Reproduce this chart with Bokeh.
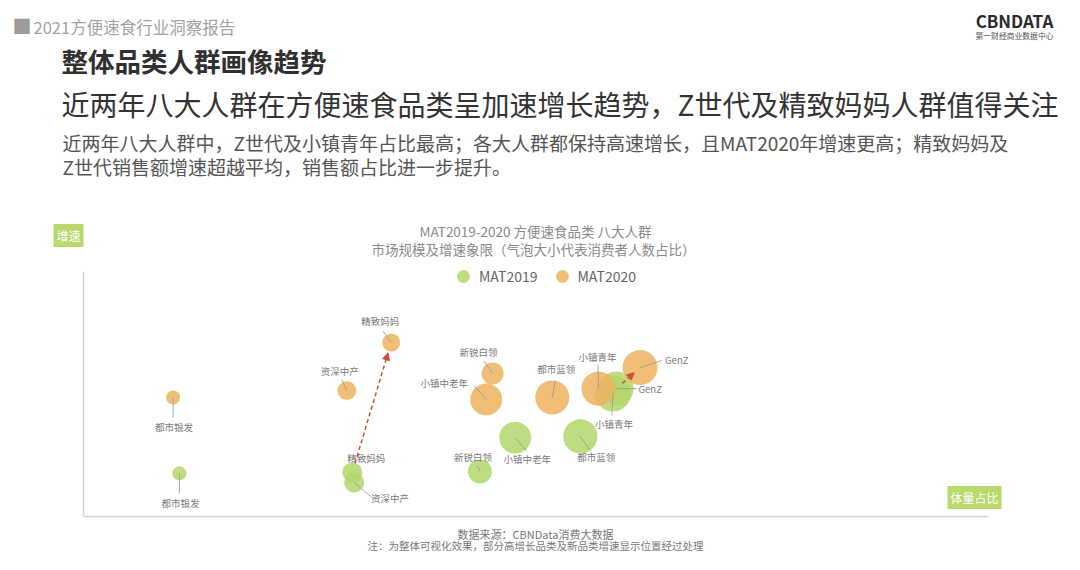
from bokeh.plotting import figure
from bokeh.models import (Label, Arrow, NormalHead, Legend, LegendItem,
                          ColumnDataSource, Range1d)
from bokeh.embed import file_html
from bokeh.resources import INLINE
from bokeh.core.properties import value

# ---------------- data ----------------
groups = ["都市银发", "精致妈妈", "资深中产", "新锐白领", "小镇中老年", "都市蓝领", "小镇青年", "GenZ"]

# x: 体量占比 (index), y: 增速 (index), people: 消费者人数占比 (bubble size)
share_2019 = [10.6, 29.7, 29.9, 43.8, 47.7, 54.9, 58.5, 58.9]
growth_2019 = [17.6, 18.0, 13.9, 18.4, 32.2, 32.7, 50.2, 52.2]
people_2019 = [6.4, 9.1, 9.1, 10.9, 14.5, 15.5, 16.4, 15.5]

share_2020 = [9.9, 34.0, 29.1, 45.2, 44.5, 51.8, 56.9, 61.5]
growth_2020 = [48.6, 71.0, 51.4, 58.4, 47.8, 48.6, 52.2, 60.8]
people_2020 = [6.4, 8.2, 8.6, 10.0, 14.5, 15.5, 15.5, 15.9]

# axis extent (data units)
X_MAX, Y_MAX = 100, 100

# label placement (screen px offsets) and leader lines (deg, px)
lab19_dx = [1, 14, 36, -7, 12, 16, 1, 22]
lab19_dy = [30, -14, 16, -14, 21, 21, 30, 0]
lab19_align = ["center", "center", "center", "center", "center", "center", "center", "left"]
lead19_ang = [-90, 90, -40, 115, -50, -55, -93, 0]
lead19_len = [20, 0, 22, 7, 18, 17, 22, 20]

lab20_dx = [1, -11, -7, -14, -42, 4, -1, 25]
lab20_dy = [30, -22, -20, -21, -16, -28, -32, -8]
lab20_align = ["center", "center", "center", "center", "center", "center", "center", "left"]
lead20_ang = [-90, 125, 115, 125, 131, 80, 91, 18]
lead20_len = [20, 14, 12, 15, 18, 17, 24, 23]

GREEN = "#b3d76a"
ORANGE = "#efb35f"
RED = "#c8503a"
FONT = "Noto Sans CJK SC"
SIZE_SCALE = 2.2

# canvas and where the plotting quadrant sits on it (px)
W, H = 1064, 554
AX_LEFT, AX_RIGHT, AX_TOP, AX_BOTTOM = 83, 988, 271, 516
ux = (AX_RIGHT - AX_LEFT) / X_MAX
uy = (AX_BOTTOM - AX_TOP) / Y_MAX
x_range = Range1d(-AX_LEFT / ux, (W - AX_LEFT) / ux)
y_range = Range1d(-(H - AX_BOTTOM) / uy, AX_BOTTOM / uy)

p = figure(width=W, height=H, x_range=x_range, y_range=y_range,
           toolbar_location=None, output_backend="svg",
           x_axis_location=None, y_axis_location=None,
           min_border=0, min_border_left=0, min_border_right=0,
           min_border_top=0, min_border_bottom=0)
p.outline_line_color = None
p.grid.visible = False
p.background_fill_color = "white"
p.border_fill_color = "white"

# quadrant axes lines
p.segment(x0=[0, 0], y0=[0, 0], x1=[0, X_MAX], y1=[Y_MAX, 0],
          line_color="#d4d4d4", line_width=1.5)

src19 = ColumnDataSource(dict(x=share_2019, y=growth_2019, d=[v * SIZE_SCALE for v in people_2019]))
src20 = ColumnDataSource(dict(x=share_2020, y=growth_2020, d=[v * SIZE_SCALE for v in people_2020]))

r19 = p.scatter("x", "y", size="d", source=src19, fill_color=GREEN, fill_alpha=0.85, line_color=None)
r20 = p.scatter("x", "y", size="d", source=src20, fill_color=ORANGE, fill_alpha=0.85, line_color=None)

# leader lines
def leaders(xs, ys, angs, lens):
    keep = [i for i in range(len(xs)) if lens[i] > 0]
    p.ray(x=[xs[i] for i in keep], y=[ys[i] for i in keep],
          angle=[angs[i] for i in keep], angle_units="deg",
          length=[lens[i] for i in keep], length_units="screen",
          line_color="#9a9a9a", line_alpha=0.85, line_width=1)

leaders(share_2019, growth_2019, lead19_ang, lead19_len)
leaders(share_2020, growth_2020, lead20_ang, lead20_len)

def point_labels(xs, ys, dxs, dys, aligns):
    for al in ("center", "left"):
        idx = [i for i in range(len(xs)) if aligns[i] == al]
        p.text(x=[xs[i] for i in idx], y=[ys[i] for i in idx], text=[groups[i] for i in idx],
               x_offset=[dxs[i] for i in idx], y_offset=[dys[i] for i in idx],
               text_align=al, text_baseline="middle", text_font=value(FONT),
               text_font_size="9.5px", text_color="#7a7a7a")

point_labels(share_2019, growth_2019, lab19_dx, lab19_dy, lab19_align)
point_labels(share_2020, growth_2020, lab20_dx, lab20_dy, lab20_align)

# arrows from 2019 to 2020
def move_arrow(i, t0, t1):
    x0, y0 = share_2019[i], growth_2019[i]
    x1, y1 = share_2020[i], growth_2020[i]
    p.add_layout(Arrow(x_start=x0 + t0 * (x1 - x0), y_start=y0 + t0 * (y1 - y0),
                       x_end=x0 + t1 * (x1 - x0), y_end=y0 + t1 * (y1 - y0),
                       end=NormalHead(size=7, fill_color=RED, line_color=RED),
                       line_color=RED, line_width=1.5, line_dash="4 3"))

move_arrow(groups.index("精致妈妈"), 0.07, 0.92)
move_arrow(groups.index("GenZ"), 0.25, 0.75)

legend = Legend(items=[LegendItem(label="MAT2019", renderers=[r19]),
                       LegendItem(label="MAT2020", renderers=[r20])],
                location=(447, H - 292), orientation="horizontal",
                glyph_width=32, glyph_height=32, label_standoff=-4, spacing=8,
                padding=0, margin=0, border_line_color=None, background_fill_alpha=0,
                label_text_font=FONT, label_text_font_size="14px", label_text_color="#666666")
p.add_layout(legend)

# ---------------- texts ----------------
def lab(px, py, text, size, color, align="left", bold=False, bg=None, pad=0):
    kw = {}
    if bg is not None:
        kw = dict(background_fill_color=bg, padding=pad)
    p.add_layout(Label(x=px, y=H - py, x_units="screen", y_units="screen", text=text,
                       text_font=FONT, text_font_size=size, text_color=color,
                       text_align=align, text_baseline="middle",
                       text_font_style="bold" if bold else "normal", **kw))

lab(12, 25, "■", "19px", "#9b9b9b")
lab(33, 26, "2021方便速食行业洞察报告", "16.5px", "#a3a3a3")
lab(1014, 20, "CBNDATA", "17px", "#2b2b2b", align="center", bold=True)
lab(1014, 35, "第一财经商业数据中心", "7.8px", "#555555", align="center")
lab(61, 60, "整体品类人群画像趋势", "26.5px", "#303030", bold=True)
lab(61, 103, "近两年八大人群在方便速食品类呈加速增长趋势，Z世代及精致妈妈人群值得关注", "28px", "#333333")
lab(62, 142, "近两年八大人群中，Z世代及小镇青年占比最高；各大人群都保持高速增长，且MAT2020年增速更高；精致妈妈及",
    "19px", "#555555")
lab(62, 166, "Z世代销售额增速超越平均，销售额占比进一步提升。", "19px", "#555555")

lab(535, 230, "MAT2019-2020 方便速食品类 八大人群", "13.5px", "#8a8a8a", align="center")
lab(533, 248, "市场规模及增速象限（气泡大小代表消费者人数占比）", "13.5px", "#8a8a8a", align="center")

lab(68, 235, "增速", "12px", "white", align="center", bg="#b8da6c", pad=3)
lab(974, 497, "体量占比", "12px", "white", align="center", bg="#b8da6c", pad=3)

lab(535, 533, "数据来源：CBNData消费大数据", "11px", "#777777", align="center")
lab(535, 545, "注：为整体可视化效果，部分高增长品类及新品类增速显示位置经过处理", "10.5px", "#777777", align="center")

open("out.html", "w").write(file_html(p, INLINE))
